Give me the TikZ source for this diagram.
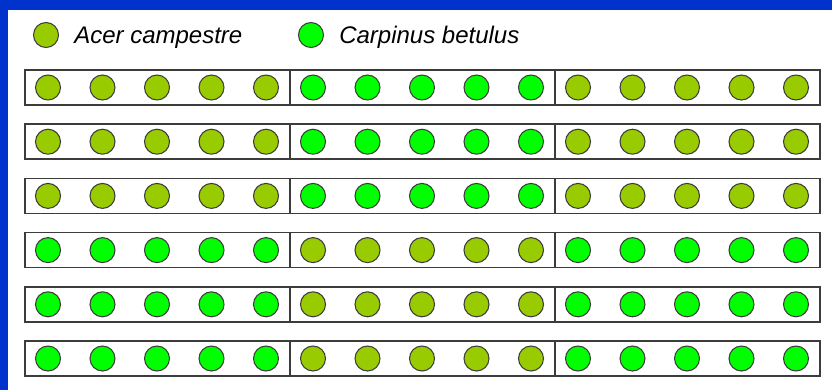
\documentclass[tikz,border=0pt]{standalone}
\usepackage{fontspec}
\setmainfont{Liberation Sans}
\usepackage{tikz}
\usetikzlibrary{positioning}
\definecolor{acerolive}{RGB}{153,204,0}
\definecolor{carpgreen}{RGB}{0,255,0}
\definecolor{frameblue}{RGB}{0,51,204}
\definecolor{edgegray}{RGB}{60,60,60}

\tikzset{
  tree/.style={circle, draw=edgegray, line width=0.8pt, minimum size=18.75pt, inner sep=0pt},
  acer/.style={tree, fill=acerolive},
  carp/.style={tree, fill=carpgreen},
  rowbox/.style={draw=edgegray, line width=1.1pt, minimum width=596.25pt, minimum height=26.25pt, inner sep=0pt},
  legendtext/.style={font=\fontsize{18}{21}\selectfont\itshape, inner sep=0pt, anchor=base west}
}

\begin{document}
\begin{tikzpicture}[x=0.75pt, y=-0.75pt]
  % ---- frame: white page with blue band top and left ----
  \fill[white] (0,0) rectangle (832,390);
  \fill[frameblue] (0,0) rectangle (832,10);
  \fill[frameblue] (0,0) rectangle (8,390);
  \useasboundingbox (0,0) rectangle (832,390);

  % ---- legend ----
  \node[acer] (legacer) at (46,35) {};
  \node[legendtext] (legacertxt) at (74,43) {Acer campestre};
  \node[carp] (legcarp) at (311,35) {};
  \node[legendtext] (legcarptxt) at (339,43) {Carpinus betulus};

  % ---- six rows, three plots of five trees each ----
  \foreach \r/\sa/\sb in {1/acer/carp, 2/acer/carp, 3/acer/carp,
                          4/carp/acer, 5/carp/acer, 6/carp/acer} {
    \pgfmathsetmacro{\ry}{87.5+54.2*(\r-1)}
    \node[rowbox] (row\r) at (422.5,\ry) {};
    \draw[edgegray, line width=1.1pt] (290,\ry-17.5) -- (290,\ry+17.5);
    \draw[edgegray, line width=1.1pt] (555,\ry-17.5) -- (555,\ry+17.5);
    \foreach \k/\st in {0/\sa, 1/\sb, 2/\sa} {
      \foreach \j in {0,...,4} {
        \node[\st] (t\r-\k-\j) at ({48+265*\k+54.5*\j},\ry) {};
      }
    }
  }
\end{tikzpicture}
\end{document}
